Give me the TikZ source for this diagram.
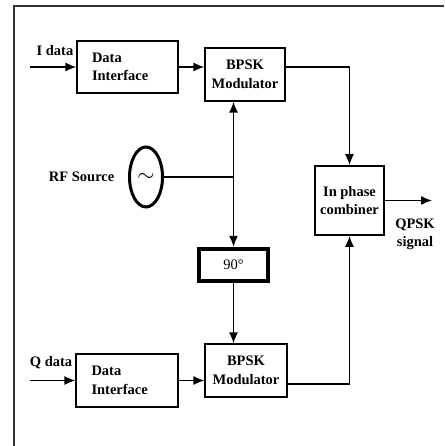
\documentclass[tikz,border=0pt]{standalone}
\usepackage{fontspec}
\setmainfont{Liberation Serif}
\usetikzlibrary{shapes.geometric,arrows.meta}
\usetikzlibrary{positioning,calc}

\begin{document}
\begin{tikzpicture}[x=1pt,y=-1pt,line width=1.3pt,
blk/.style={rectangle,draw,inner sep=0pt,align=center,
 font=\fontsize{14.5}{18.5}\selectfont\bfseries},
dib/.style={blk,minimum width=101pt,minimum height=52pt,text width=71pt,align=left},
modb/.style={blk,minimum width=81pt,minimum height=53pt},
lbl/.style={inner sep=0pt,align=center,font=\fontsize{14.5}{18}\selectfont\bfseries},
arr/.style={-{Latex[length=11pt,width=9pt]}}]
 \useasboundingbox (0,0) rectangle (444,446);
 % frame of the figure
 \draw[line width=1.5pt,black!80] (14,446) -- (14,6) -- (444,6);
 % I branch and Q branch
 \node[dib] (idi) at (127.5,67) {Data\\Interface};
 \node[modb,minimum width=80pt] (ibpsk) at (245,74.5) {BPSK\\Modulator};
 \node[dib,minimum width=102pt,minimum height=53pt] (qdi) at (127,380.5) {Data\\Interface};
 \node[modb,minimum width=82pt] (qbpsk) at (246,370.5) {BPSK\\Modulator};
 \node[lbl] (ilbl) at (55,51) {I data};
 \node[lbl] (qlbl) at (51,363) {Q data};
 \coordinate (iin) at (30,67);
 \coordinate (qin) at (30,380.5);
 % carrier
 \node[ellipse,draw,line width=3pt,minimum width=33pt,minimum height=60pt,inner sep=0pt]
  (rf) at (146,177) {\scalebox{2.2}{$\sim$}};
 \node[lbl,left=13pt of rf] (rflbl) {RF Source};
 \node[blk,line width=4.5pt,minimum width=69pt,minimum height=32pt] (shift) at (233.5,265)
  {\mdseries 90°};
 \coordinate (tap) at (shift.north |- rf.east);
 % combiner
 \node[blk,line width=1.8pt,minimum width=69pt,minimum height=69pt] (comb) at (349.5,200.5)
  {In phase\\combiner};
 \coordinate (out) at (432,200.5);
 \node[lbl] (qpsk) at (415,234) {QPSK\\signal};

 \draw[arr] (iin) -- (idi.west);
 \draw[arr] (qin) -- (qdi.west);
 \draw[arr] (idi.east) -- (idi.east -| ibpsk.west);
 \draw[arr] (qdi.east) -- (qdi.east -| qbpsk.west);
 \draw (rf.east) -- (tap);
 \draw[arr] (tap) -- (tap |- ibpsk.south);
 \draw[arr] (tap) -- (shift.north);
 \draw[arr] (shift.south) -- (shift.south |- qbpsk.north);
 \draw[arr] (ibpsk.east |- idi.east) -| (comb.north);
 \draw[arr] ($(qbpsk.east)+(0,13.5)$) -| (comb.south);
 \draw[arr] (comb.east) -- (out);
\end{tikzpicture}
\end{document}
